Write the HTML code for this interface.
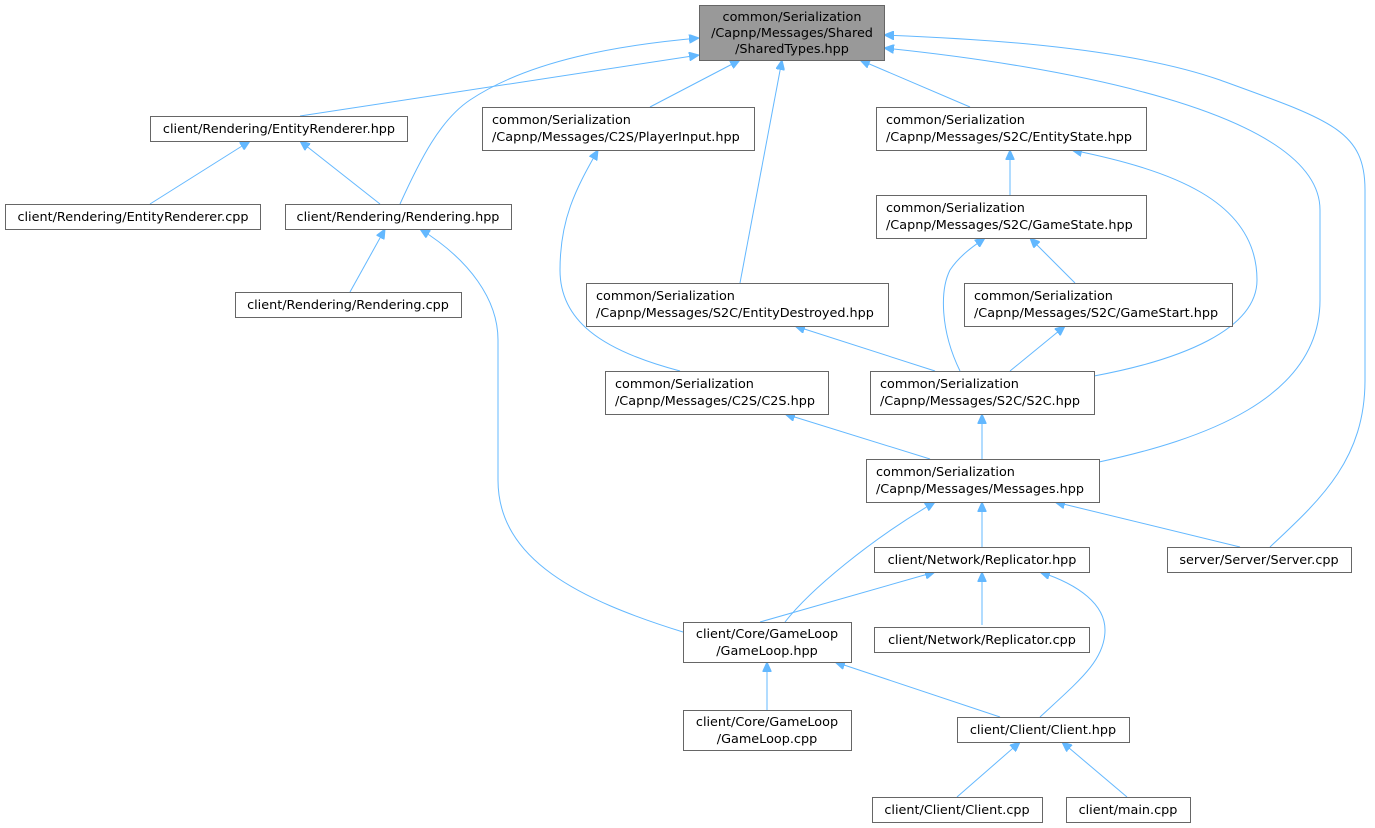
<!DOCTYPE html>
<html><head><meta charset="utf-8"><style>
html,body{margin:0;padding:0;background:#fff;}
svg{display:block;}
text{font-family:"DejaVu Sans","Liberation Sans",sans-serif;font-size:12.8px;fill:#000;}
.n{fill:#fff;stroke:#666;stroke-width:1;}
.e{fill:none;stroke:#63b8ff;stroke-width:1;}
</style></head><body>
<svg width="1375" height="828" viewBox="0 0 1375 828" xmlns="http://www.w3.org/2000/svg">
<defs><marker id="a" markerWidth="11" markerHeight="9" refX="10" refY="4.5" orient="auto" markerUnits="userSpaceOnUse"><path d="M0,0 L10,4.5 L0,9 Z" fill="#63b8ff" stroke="#63b8ff"/></marker></defs>
<g marker-end="url(#a)">
<path class="e" d="M300,116 L699,55"/>
<path class="e" d="M400,204 C420,160 440,120 470,100 C530,60 620,45 699,38"/>
<path class="e" d="M150,204 L250,141"/>
<path class="e" d="M380,204 L300,141"/>
<path class="e" d="M350,292 L385,229"/>
<path class="e" d="M683,632 C580,600 498,560 498,480 L498,340 C498,300 470,260 420,229"/>
<path class="e" d="M650,107 L740,60"/>
<path class="e" d="M740,283 L782,60"/>
<path class="e" d="M970,107 L860,60"/>
<path class="e" d="M1099,462 C1200,440 1320,400 1320,300 L1320,210 C1320,110 1050,65 884,48"/>
<path class="e" d="M1270,547 C1320,500 1365,460 1365,380 L1365,190 C1365,130 1330,120 1220,80 C1120,45 960,38 884,35"/>
<path class="e" d="M680,371 C600,350 560,320 560,270 C560,220 575,190 598,150"/>
<path class="e" d="M1010,195 L1010,150"/>
<path class="e" d="M1094,376 C1180,360 1257,330 1257,280 C1257,200 1170,170 1072,150"/>
<path class="e" d="M960,371 C940,330 940,290 950,270 C960,255 975,245 985,238"/>
<path class="e" d="M1075,283 L1030,238"/>
<path class="e" d="M935,371 L795,326"/>
<path class="e" d="M1010,371 L1065,326"/>
<path class="e" d="M930,459 L785,414"/>
<path class="e" d="M982,459 L982,414"/>
<path class="e" d="M982,547 L982,502"/>
<path class="e" d="M1240,547 L1055,502"/>
<path class="e" d="M785,622 C810,590 870,540 935,502"/>
<path class="e" d="M760,622 L935,572"/>
<path class="e" d="M982,625 L982,572"/>
<path class="e" d="M1040,717 C1080,680 1105,660 1105,630 C1105,605 1080,585 1040,572"/>
<path class="e" d="M767,710 L767,662"/>
<path class="e" d="M1000,717 L835,662"/>
<path class="e" d="M957,797 L1020,742"/>
<path class="e" d="M1127,797 L1062,742"/>
</g>
<rect x="699.5" y="5.5" width="185" height="55" fill="#999" stroke="#666"/>
<text x="792" y="21" text-anchor="middle">common/Serialization</text>
<text x="792" y="37" text-anchor="middle">/Capnp/Messages/Shared</text>
<text x="792" y="53" text-anchor="middle">/SharedTypes.hpp</text>

<rect class="n" x="150.5" y="116.5" width="257" height="25"/><text x="279" y="133" text-anchor="middle">client/Rendering/EntityRenderer.hpp</text>
<rect class="n" x="5.5" y="204.5" width="255" height="25"/><text x="133" y="221" text-anchor="middle">client/Rendering/EntityRenderer.cpp</text>
<rect class="n" x="285.5" y="204.5" width="226" height="25"/><text x="398" y="221" text-anchor="middle">client/Rendering/Rendering.hpp</text>
<rect class="n" x="235.5" y="292.5" width="226" height="25"/><text x="348" y="309" text-anchor="middle">client/Rendering/Rendering.cpp</text>

<rect class="n" x="482.5" y="107.5" width="272" height="43"/><text x="492" y="124">common/Serialization</text><text x="492" y="141">/Capnp/Messages/C2S/PlayerInput.hpp</text>
<rect class="n" x="876.5" y="107.5" width="270" height="43"/><text x="886" y="124">common/Serialization</text><text x="886" y="141">/Capnp/Messages/S2C/EntityState.hpp</text>
<rect class="n" x="876.5" y="195.5" width="270" height="43"/><text x="886" y="212">common/Serialization</text><text x="886" y="229">/Capnp/Messages/S2C/GameState.hpp</text>
<rect class="n" x="586.5" y="283.5" width="302" height="43"/><text x="596" y="300">common/Serialization</text><text x="596" y="317">/Capnp/Messages/S2C/EntityDestroyed.hpp</text>
<rect class="n" x="964.5" y="283.5" width="268" height="43"/><text x="974" y="300">common/Serialization</text><text x="974" y="317">/Capnp/Messages/S2C/GameStart.hpp</text>
<rect class="n" x="605.5" y="371.5" width="223" height="43"/><text x="615" y="388">common/Serialization</text><text x="615" y="405">/Capnp/Messages/C2S/C2S.hpp</text>
<rect class="n" x="870.5" y="371.5" width="224" height="43"/><text x="880" y="388">common/Serialization</text><text x="880" y="405">/Capnp/Messages/S2C/S2C.hpp</text>
<rect class="n" x="866.5" y="459.5" width="233" height="43"/><text x="876" y="476">common/Serialization</text><text x="876" y="493">/Capnp/Messages/Messages.hpp</text>

<rect class="n" x="874.5" y="547.5" width="215" height="25"/><text x="982" y="564" text-anchor="middle">client/Network/Replicator.hpp</text>
<rect class="n" x="1167.5" y="547.5" width="184" height="25"/><text x="1259" y="564" text-anchor="middle">server/Server/Server.cpp</text>
<rect class="n" x="683.5" y="622.5" width="168" height="40"/><text x="767" y="638" text-anchor="middle">client/Core/GameLoop</text><text x="767" y="655" text-anchor="middle">/GameLoop.hpp</text>
<rect class="n" x="874.5" y="627.5" width="215" height="25"/><text x="982" y="644" text-anchor="middle">client/Network/Replicator.cpp</text>
<rect class="n" x="683.5" y="710.5" width="168" height="40"/><text x="767" y="726" text-anchor="middle">client/Core/GameLoop</text><text x="767" y="743" text-anchor="middle">/GameLoop.cpp</text>
<rect class="n" x="957.5" y="717.5" width="172" height="25"/><text x="1043" y="734" text-anchor="middle">client/Client/Client.hpp</text>
<rect class="n" x="872.5" y="797.5" width="170" height="25"/><text x="957" y="814" text-anchor="middle">client/Client/Client.cpp</text>
<rect class="n" x="1066.5" y="797.5" width="124" height="25"/><text x="1128" y="814" text-anchor="middle">client/main.cpp</text>
</svg>
</body></html>
